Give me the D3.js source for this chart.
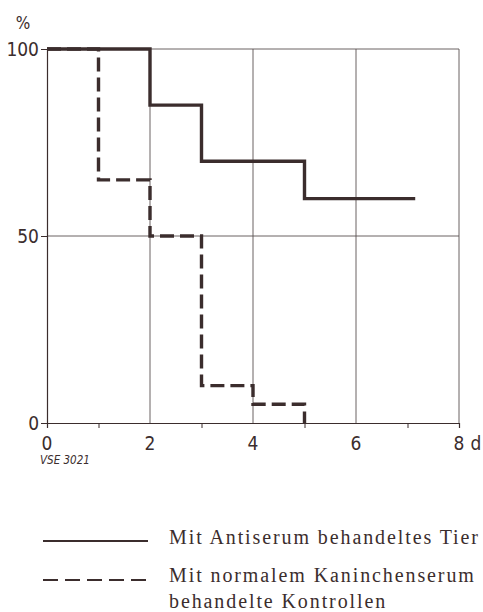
<!DOCTYPE html>
<html>
<head>
<meta charset="utf-8">
<script src="https://cdn.jsdelivr.net/npm/d3@7"></script>
<style>
  body { margin: 0; background: #fff; }
</style>
</head>
<body>
<svg id="chart"></svg>
<script>
// survival in %, step data (day, value)
const antiserumDays = [0, 2, 2, 3, 3, 5, 5, 7.15];
const antiserumValues = [100, 100, 85, 85, 70, 70, 60, 60];
const controlDays = [0, 1, 1, 2, 2, 3, 3, 4, 4, 5, 5];
const controlValues = [100, 100, 65, 65, 50, 50, 10, 10, 5, 5, 0];
const xTicks = [0, 2, 4, 6, 8];
const xMinorTicks = [1, 3, 5, 7];
const yTicks = [0, 50, 100];
const legendLabels = [
    ["Mit Antiserum behandeltes Tier"],
    ["Mit normalem Kaninchenserum", "behandelte Kontrollen"]
];

const W = 483, H = 612;
const ink = "#3b2d2d";
const svg = d3.select("#chart").attr("width", W).attr("height", H);

const x = d3.scaleLinear().domain([0, 8]).range([47, 459]);
const y = d3.scaleLinear().domain([0, 100]).range([423, 49]);

// grid
const grid = svg.append("g").attr("stroke", "#5a5050").attr("stroke-width", 0.9);
grid.selectAll(".vg").data(xTicks.slice(1)).enter().append("line")
    .attr("x1", d => x(d)).attr("x2", d => x(d))
    .attr("y1", y(0)).attr("y2", y(100));
grid.selectAll(".hg").data([50, 100]).enter().append("line")
    .attr("x1", x(0)).attr("x2", x(8))
    .attr("y1", d => y(d)).attr("y2", d => y(d));

// axes
const xAxis = svg.append("g")
    .attr("transform", `translate(0,${y(0)})`)
    .call(d3.axisBottom(x).tickValues(xMinorTicks).tickSize(5).tickFormat(""));
xAxis.select(".domain").attr("stroke", ink).attr("stroke-width", 1.2);
xAxis.selectAll("line").attr("stroke", ink);

const yAxis = svg.append("g")
    .attr("transform", `translate(${x(0)},0)`)
    .call(d3.axisLeft(y).tickValues(yTicks).tickSize(6).tickFormat(""));
yAxis.select(".domain").attr("stroke", ink).attr("stroke-width", 1.2);
yAxis.selectAll("line").attr("stroke", ink);

const tickFont = "'DejaVu Sans Condensed', 'DejaVu Sans', sans-serif";
svg.selectAll(".yl").data(yTicks).enter().append("text")
    .attr("x", 39).attr("y", d => y(d) + 7)
    .attr("text-anchor", "end")
    .style("font-family", tickFont).style("font-size", "19px")
    .style("fill", ink)
    .text(d => d);

svg.selectAll(".xl").data(xTicks).enter().append("text")
    .attr("x", d => x(d)).attr("y", 450)
    .attr("text-anchor", "middle")
    .style("font-family", tickFont).style("font-size", "19px")
    .style("fill", ink)
    .text(d => d);

svg.append("text")
    .attr("x", 476).attr("y", 450)
    .attr("text-anchor", "middle")
    .style("font-family", tickFont).style("font-size", "19px")
    .style("fill", ink)
    .text("d");

svg.append("text")
    .attr("x", 23).attr("y", 29)
    .attr("text-anchor", "middle")
    .style("font-family", tickFont).style("font-size", "17px")
    .style("fill", ink)
    .text("%");

svg.append("text")
    .attr("x", 40).attr("y", 464)
    .style("font-family", tickFont).style("font-size", "11.5px")
    .style("font-style", "italic")
    .style("fill", ink)
    .text("VSE 3021");

// series
const line = d3.line().x(d => x(d[0])).y(d => y(d[1]));
svg.append("path")
    .datum(d3.zip(antiserumDays, antiserumValues))
    .attr("d", line)
    .attr("fill", "none").attr("stroke", ink).attr("stroke-width", 3.4);
svg.append("path")
    .datum(d3.zip(controlDays, controlValues))
    .attr("d", line)
    .attr("fill", "none").attr("stroke", ink).attr("stroke-width", 3.4)
    .attr("stroke-dasharray", "14,6");

// legend
const legendFont = "'Liberation Serif', 'Times New Roman', serif";
const legendY = [541, 580];
const legend = svg.selectAll(".legend").data(legendLabels).enter().append("g")
    .attr("transform", (d, i) => `translate(0,${legendY[i]})`);
legend.append("line")
    .attr("x1", 43).attr("x2", 148).attr("y1", 0).attr("y2", 0)
    .attr("stroke", ink).attr("stroke-width", 2.2)
    .attr("stroke-dasharray", (d, i) => i === 1 ? "15,7" : null);
legend.each(function(d, i) {
    const t = d3.select(this).append("text")
        .attr("x", 169).attr("y", i === 0 ? 3 : 2)
        .style("font-family", legendFont).style("font-size", "20px")
        .style("letter-spacing", "1.9px")
        .style("fill", ink);
    d.forEach((s, j) => {
        t.append("tspan").attr("x", 169).attr("dy", j === 0 ? 0 : 26).text(s);
    });
});
</script>
</body>
</html>
